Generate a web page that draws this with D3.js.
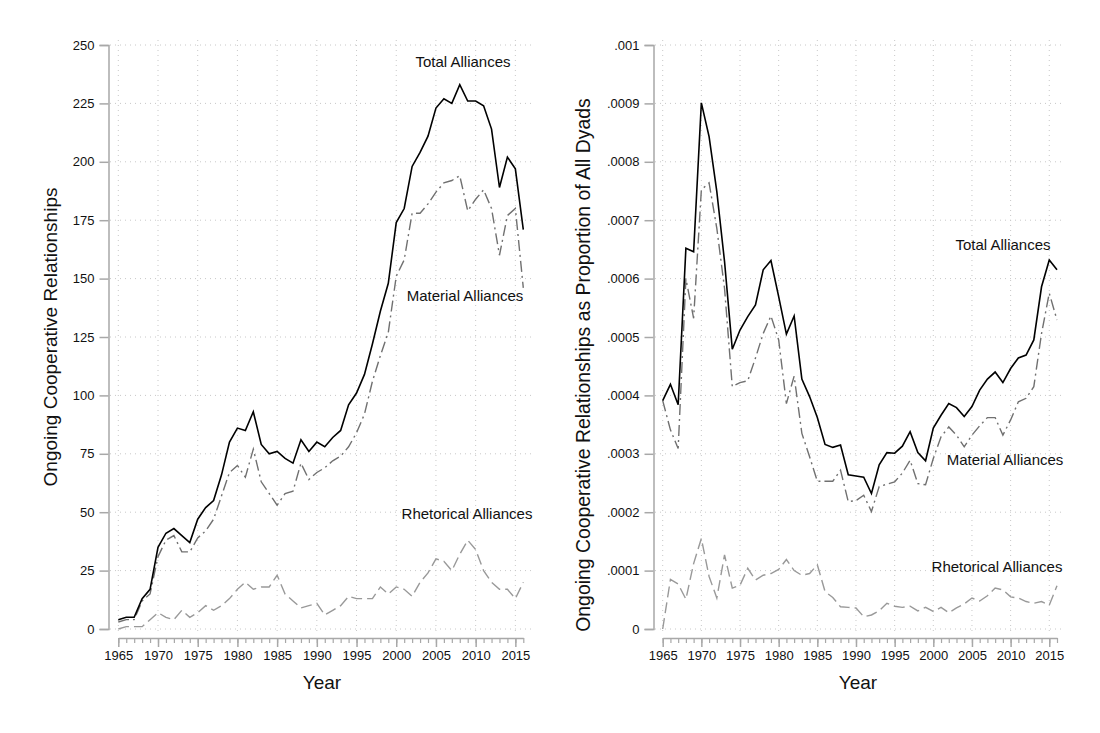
<!DOCTYPE html>
<html>
<head>
<meta charset="utf-8">
<title>Ongoing Cooperative Relationships</title>
<script src="https://cdn.jsdelivr.net/npm/d3@7"></script>
<style>
  body { margin: 0; background: #fff; }
  text { font-family: "Liberation Sans", Arial, Helvetica, sans-serif; fill: #111; }
</style>
</head>
<body>
<div id="chart"></div>
<script>
// years 1965..2016
var years = d3.range(1965, 2017);

// left panel: counts
var totalCount = [4, 5, 5, 13, 17, 35, 41, 43, 40, 37, 47, 52, 55, 66, 80, 86, 85, 93, 79, 75,
  76, 73, 71, 81, 76, 80, 78, 82, 85, 96, 101, 109, 122, 136, 148, 174, 180, 198, 204, 211,
  223, 227, 225, 233, 226, 226, 224, 214, 189, 202, 197, 171];
var materialCount = [3, 4, 4, 12, 15, 31, 38, 40, 33, 33, 39, 42, 47, 57, 67, 70, 65, 77, 63, 58,
  53, 58, 59, 71, 64, 67, 69, 72, 74, 78, 84, 92, 106, 117, 127, 151, 158, 178, 178, 182,
  187, 191, 192, 194, 179, 184, 188, 180, 160, 177, 180, 146];
var rhetoricalCount = [0, 1, 1, 1, 4, 7, 5, 4, 8, 5, 7, 10, 8, 10, 13, 17, 20, 17, 18, 18,
  23, 15, 12, 9, 10, 11, 6, 8, 10, 14, 13, 13, 13, 18, 15, 18, 17, 14, 20, 24,
  30, 29, 25, 32, 38, 34, 25, 20, 17, 17, 13, 20];

// right panel: proportion of all dyads (units of 1e-4)
var totalProp = [3.91, 4.19, 3.84, 6.52, 6.46, 9.01, 8.43, 7.49, 6.29, 4.79, 5.12, 5.35, 5.55, 6.15, 6.31, 5.69,
  5.05, 5.36, 4.28, 3.98, 3.62, 3.16, 3.11, 3.15, 2.64, 2.62, 2.6, 2.32, 2.81, 3.02, 3.01, 3.13,
  3.38, 3.02, 2.88, 3.44, 3.66, 3.86, 3.79, 3.64, 3.81, 4.09, 4.28, 4.4, 4.22, 4.46, 4.64, 4.69,
  4.95, 5.86, 6.32, 6.15];
var materialProp = [3.91, 3.41, 3.09, 6.0, 5.32, 7.52, 7.64, 6.86, 5.83, 4.15, 4.22, 4.25, 4.64, 5.06, 5.36, 4.95,
  3.86, 4.33, 3.35, 2.95, 2.53, 2.53, 2.53, 2.72, 2.18, 2.2, 2.29, 2.01, 2.44, 2.48, 2.52, 2.67,
  2.89, 2.49, 2.47, 2.92, 3.29, 3.46, 3.32, 3.12, 3.32, 3.48, 3.62, 3.62, 3.32, 3.58, 3.89, 3.95,
  4.15, 5.06, 5.75, 5.29];
var rhetoricalProp = [0.0, 0.85, 0.77, 0.51, 1.12, 1.55, 0.9, 0.53, 1.27, 0.7, 0.75, 1.04, 0.84, 0.92, 0.95, 1.02,
  1.19, 1.0, 0.92, 0.95, 1.1, 0.64, 0.54, 0.38, 0.37, 0.36, 0.21, 0.24, 0.31, 0.44, 0.39, 0.37,
  0.39, 0.31, 0.37, 0.3, 0.37, 0.28, 0.36, 0.43, 0.53, 0.48, 0.57, 0.7, 0.67, 0.55, 0.53, 0.47,
  0.44, 0.47, 0.41, 0.74];

var leftTicks = [0, 25, 50, 75, 100, 125, 150, 175, 200, 225, 250];
var rightTicks = [0, .0001, .0002, .0003, .0004, .0005, .0006, .0007, .0008, .0009, .001];
var rightTickLabels = ["0", ".0001", ".0002", ".0003", ".0004", ".0005", ".0006", ".0007", ".0008", ".0009", ".001"];
var yearTicks = d3.range(1965, 2016, 5);

var W = 1100, H = 733;
var svg = d3.select("#chart").append("svg").attr("width", W).attr("height", H);

var axisColor = "#a8a8a8", gridColor = "#c8c8c8";
var styles = {
  total: {stroke: "#000", width: 1.6, dash: null},
  material: {stroke: "#707070", width: 1.4, dash: "11,4,2,4"},
  rhetorical: {stroke: "#999", width: 1.4, dash: "11,5"}
};

function panel(cfg) {
  var g = svg.append("g");
  var x = d3.scaleLinear().domain([1965, 2016]).range(cfg.xr);
  var y = d3.scaleLinear().domain(cfg.yd).range([629, 45]);

  // grid
  g.append("g").selectAll("line").data(cfg.yticks).enter().append("line")
    .attr("x1", cfg.gx[0]).attr("x2", cfg.gx[1])
    .attr("y1", function (d) { return y(d); }).attr("y2", function (d) { return y(d); })
    .attr("stroke", gridColor).attr("stroke-width", 1).attr("stroke-dasharray", "1,4");
  g.append("g").selectAll("line").data(yearTicks).enter().append("line")
    .attr("x1", function (d) { return x(d); }).attr("x2", function (d) { return x(d); })
    .attr("y1", 40).attr("y2", 634)
    .attr("stroke", gridColor).attr("stroke-width", 1).attr("stroke-dasharray", "1,4");

  // y axis
  var ya = d3.axisLeft(y).tickValues(cfg.yticks).tickSize(9).tickPadding(5)
    .tickFormat(function (d, i) { return cfg.ylabels ? cfg.ylabels[i] : d; });
  var yg = g.append("g").attr("transform", "translate(" + cfg.yx + ",0)").call(ya);
  yg.select(".domain").attr("stroke", axisColor).attr("stroke-width", 1.5);
  yg.selectAll(".tick line").attr("stroke", axisColor).attr("stroke-width", 1.5);
  yg.selectAll(".tick text").style("font-size", "13px").attr("fill", "#111");

  // x axis: minor every year, labeled every 5
  var xa = d3.axisBottom(x).tickValues(years).tickSize(5).tickFormat("").tickSizeOuter(0);
  var xg = g.append("g").attr("transform", "translate(0,638)").call(xa);
  xg.select(".domain").attr("stroke", axisColor).attr("stroke-width", 1.5);
  xg.selectAll(".tick line").attr("stroke", axisColor).attr("stroke-width", 1.2);
  var xb = d3.axisBottom(x).tickValues(yearTicks).tickSize(9).tickPadding(4).tickFormat(d3.format("d"));
  var xg2 = g.append("g").attr("transform", "translate(0,638)").call(xb);
  xg2.select(".domain").remove();
  xg2.selectAll(".tick line").attr("stroke", axisColor).attr("stroke-width", 1.5);
  xg2.selectAll(".tick text").style("font-size", "13px").attr("fill", "#111");

  // series
  var order = [["rhetorical", cfg.rhet], ["material", cfg.mat], ["total", cfg.tot]];
  order.forEach(function (s) {
    var st = styles[s[0]];
    var line = d3.line().x(function (d, i) { return x(years[i]); }).y(function (d) { return y(d * cfg.k); });
    g.append("path").datum(s[1]).attr("d", line)
      .attr("fill", "none").attr("stroke", st.stroke).attr("stroke-width", st.width)
      .attr("stroke-linejoin", "miter").attr("stroke-dasharray", st.dash);
  });

  // series labels
  cfg.labels.forEach(function (l) {
    g.append("text").attr("x", l[1]).attr("y", l[2]).attr("text-anchor", "middle")
      .style("font-size", "15px").attr("fill", "#222").text(l[0]);
  });

  // titles
  g.append("text").attr("x", cfg.xTitleX).attr("y", 689).attr("text-anchor", "middle")
    .style("font-size", "19px").text("Year");
  g.append("text").attr("transform", "translate(" + cfg.yTitleX + "," + cfg.yTitleY + ") rotate(-90)")
    .attr("text-anchor", "middle").style("font-size", cfg.yTitleSize).text(cfg.yTitle);
}

panel({
  xr: [118.3, 523.3], yd: [0, 250], yticks: leftTicks, gx: [110, 531], yx: 108.5,
  tot: totalCount, mat: materialCount, rhet: rhetoricalCount, k: 1,
  labels: [["Total Alliances", 463, 67], ["Material Alliances", 465, 301], ["Rhetorical Alliances", 467, 519]],
  xTitleX: 322, yTitleX: 57, yTitleY: 337, yTitleSize: "19px", yTitle: "Ongoing Cooperative Relationships"
});

panel({
  xr: [662.7, 1057], yd: [0, .001], yticks: rightTicks, ylabels: rightTickLabels, gx: [655, 1063], yx: 653.5,
  tot: totalProp, mat: materialProp, rhet: rhetoricalProp, k: 1e-4,
  labels: [["Total Alliances", 1003, 250], ["Material Alliances", 1005, 465], ["Rhetorical Alliances", 997, 572]],
  xTitleX: 858, yTitleX: 590, yTitleY: 365, yTitleSize: "19.4px", yTitle: "Ongoing Cooperative Relationships as Proportion of All Dyads"
});
</script>
</body>
</html>
